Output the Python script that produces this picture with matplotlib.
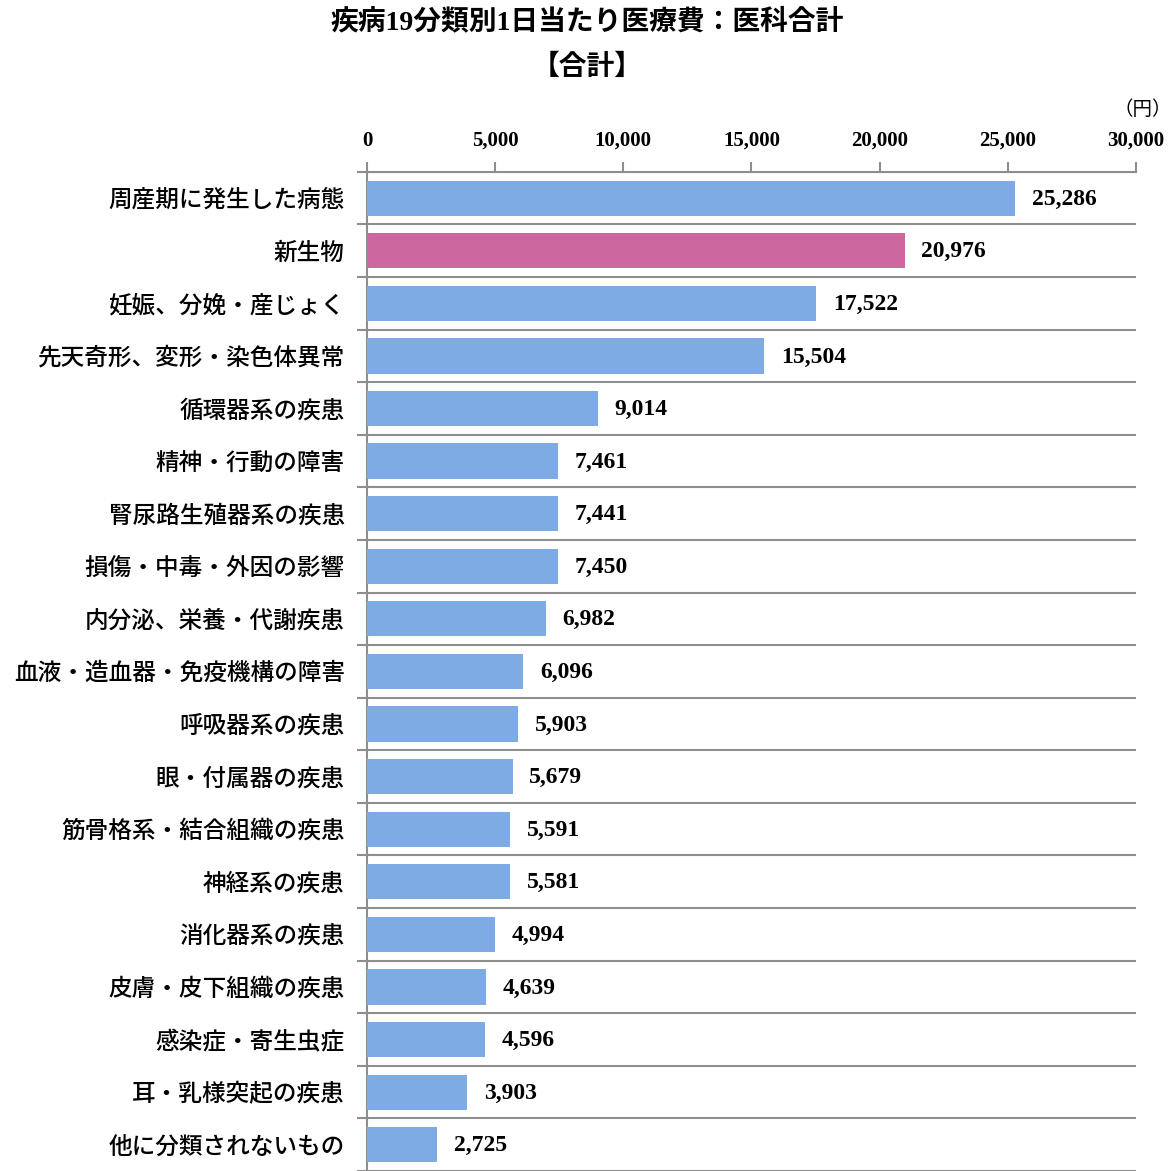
import matplotlib
matplotlib.use('Agg')
import matplotlib.pyplot as plt
from matplotlib.ticker import FuncFormatter, MultipleLocator

plt.rcParams['font.family'] = ['Liberation Serif', 'Noto Sans CJK JP']

# 疾病分類と1日当たり医療費（円）
categories = [
    '周産期に発生した病態', '新生物', '妊娠、分娩・産じょく', '先天奇形、変形・染色体異常',
    '循環器系の疾患', '精神・行動の障害', '腎尿路生殖器系の疾患', '損傷・中毒・外因の影響',
    '内分泌、栄養・代謝疾患', '血液・造血器・免疫機構の障害', '呼吸器系の疾患', '眼・付属器の疾患',
    '筋骨格系・結合組織の疾患', '神経系の疾患', '消化器系の疾患', '皮膚・皮下組織の疾患',
    '感染症・寄生虫症', '耳・乳様突起の疾患', '他に分類されないもの',
]
values = [25286, 20976, 17522, 15504, 9014, 7461, 7441, 7450, 6982, 6096,
          5903, 5679, 5591, 5581, 4994, 4639, 4596, 3903, 2725]
highlight = '新生物'
xticks = [0, 5000, 10000, 15000, 20000, 25000, 30000]

blue = '#7EABE3'
pink = '#CC679F'
grid_color = '#8E8E8E'

fig = plt.figure(figsize=(11.74, 11.71), dpi=100)
ax = fig.add_axes([0.3126, 0.0, 0.6550, 0.8532])

colors = [pink if c == highlight else blue for c in categories]
ypos = list(range(len(categories)))
ax.barh(ypos, values, height=0.67, color=colors, zorder=3)

for y, v in zip(ypos, values):
    ax.text(v + 650, y + 0.02, f'{v:,}', va='center', ha='left', fontsize=17,
            fontweight='bold', color='black')

ax.set_xlim(0, 30000)
ax.set_ylim(len(categories) - 0.5, -0.5)
ax.set_xticks(xticks)
ax.xaxis.set_major_formatter(FuncFormatter(lambda x, p: f'{int(x):,}'))
ax.xaxis.tick_top()
ax.tick_params(axis='x', which='major', direction='out', length=7, width=1.5,
               color=grid_color, labelsize=15, pad=8)
for lbl in ax.get_xticklabels():
    lbl.set_fontweight('bold')

ax.set_yticks(ypos)
ax.set_yticklabels(categories, fontsize=17, fontweight='medium')
ax.tick_params(axis='y', which='major', length=0, pad=16)
ax.yaxis.set_minor_locator(MultipleLocator(1, offset=0.5))
ax.tick_params(axis='y', which='minor', length=7, width=1.5, color=grid_color)
ax.yaxis.grid(True, which='minor', color=grid_color, linewidth=1.5, zorder=1)

for s in ['right', 'bottom']:
    ax.spines[s].set_visible(False)
for s in ['left', 'top']:
    ax.spines[s].set_color(grid_color)
    ax.spines[s].set_linewidth(1.5)

fig.text(0.5, 1 - 22 / 1171, '疾病19分類別1日当たり医療費：医科合計', ha='center', va='center',
         fontsize=20, fontweight='bold')
fig.text(0.5, 1 - 68 / 1171, '【合計】', ha='center', va='center',
         fontsize=20, fontweight='bold')
fig.text(0.998, 1 - 110 / 1171, '（円）', ha='right', va='center', fontsize=14)

fig.savefig('out.png', dpi=100)
